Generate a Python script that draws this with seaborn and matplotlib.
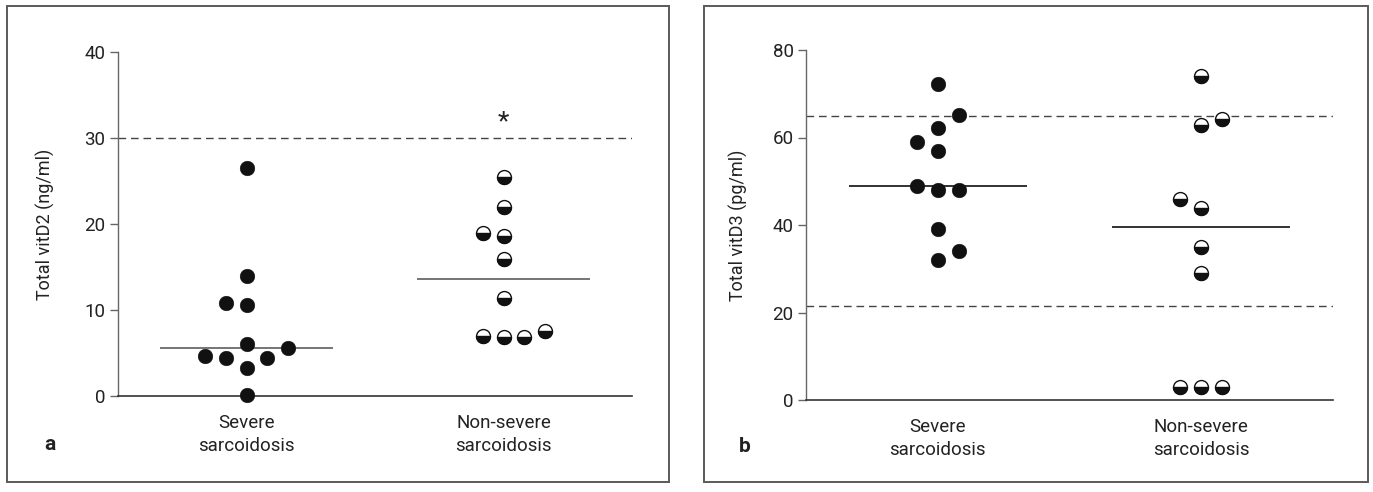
import numpy as np
import pandas as pd
import matplotlib
matplotlib.use("Agg")
import matplotlib.pyplot as plt
from matplotlib.markers import MarkerStyle
from matplotlib.patches import Rectangle
import seaborn as sns

# ---------------- data ----------------
categories = ["Severe\nsarcoidosis", "Non-severe\nsarcoidosis"]

# Panel a: total vitD2 (ng/ml)
vitd2_severe = [26.5, 14.0, 10.8, 10.6, 6.05, 5.6, 4.7, 4.45, 4.45, 3.3, 0.1]
vitd2_severe_slot = [0, 0, -1, 0, 0, 2, -2, -1, 1, 0, 0]
vitd2_nonsevere = [25.5, 22.0, 18.9, 18.6, 15.9, 11.4, 6.98, 6.86, 6.86, 7.56]
vitd2_nonsevere_slot = [0, 0, -1, 0, 0, 0, -1, 0, 1, 2]
vitd2_reference = [30]

# Panel b: total vitD3 (pg/ml)
vitd3_severe = [72.2, 65.1, 62.1, 59.0, 57.0, 49.0, 48.0, 48.0, 39.0, 34.1, 31.9]
vitd3_severe_slot = [0, 1, 0, -1, 0, -1, 0, 1, 0, 1, 0]
vitd3_nonsevere = [74.1, 62.9, 64.2, 45.9, 44.0, 35.0, 29.0, 2.9, 2.9, 2.9]
vitd3_nonsevere_slot = [0, 0, 1, -1, 0, 0, 0, -1, 0, 1]
vitd3_reference = [64.9, 21.6]

panel_a_ticks = [0, 10, 20, 30, 40]
panel_b_ticks = [0, 20, 40, 60, 80]

# ---------------- style ----------------
sns.set_theme(style="white")
plt.rcParams["font.family"] = ["Roboto", "DejaVu Sans"]
plt.rcParams["text.color"] = "#222222"
plt.rcParams["axes.labelcolor"] = "#222222"
plt.rcParams["xtick.color"] = "#222222"
plt.rcParams["ytick.color"] = "#222222"

W, H = 1373, 492
fig = plt.figure(figsize=(W / 100, H / 100), dpi=100)

SLOT = 0.08


def frame(x0, x1, y0, y1):
    fig.patches.append(Rectangle((x0 / W, 1 - y1 / H), (x1 - x0) / W, (y1 - y0) / H,
                                 transform=fig.transFigure, fill=False,
                                 edgecolor="#5a5a5a", linewidth=1.4))


def make_df(sev, sev_slot, non, non_slot):
    df = pd.DataFrame({
        "group": [0] * len(sev) + [1] * len(non),
        "value": list(sev) + list(non),
        "slot": list(sev_slot) + list(non_slot),
    })
    df["xpos"] = df["group"] + df["slot"] * SLOT
    return df


def draw_panel(ax, df, ylim, ticks, refs, ylabel, median_color, label_x):
    sev = df[df.group == 0]
    non = df[df.group == 1]
    # reference (dashed) lines
    for r in refs:
        ax.axhline(r, color="#444444", lw=1.0, ls=(0, (5.5, 3.5)), zorder=1)
    # medians
    for g, sub in [(0, sev), (1, non)]:
        m = np.median(sub["value"])
        ax.hlines(m, g - 0.337, g + 0.337, color=median_color, lw=1.3, zorder=2)
    # severe: filled black circles
    sns.scatterplot(data=sev, x="xpos", y="value", ax=ax, color="#111111",
                    edgecolor="#111111", linewidth=0.3, s=112, marker="o",
                    zorder=3, clip_on=False, legend=False)
    # non-severe: half-filled circles (white top, black bottom)
    sns.scatterplot(data=non, x="xpos", y="value", ax=ax, color="white",
                    edgecolor="#111111", linewidth=1.0, s=100, marker="o",
                    zorder=3, clip_on=False, legend=False)
    sns.scatterplot(data=non, x="xpos", y="value", ax=ax, color="#111111",
                    edgecolor="#111111", linewidth=1.0, s=100,
                    marker=MarkerStyle("o", fillstyle="bottom"),
                    zorder=4, clip_on=False, legend=False)

    ax.set_xlim(-0.5, 1.5)
    ax.set_ylim(*ylim)
    ax.set_yticks(ticks)
    ax.set_xticks([0, 1])
    ax.set_xticklabels(categories, fontsize=13.5, linespacing=1.35)
    ax.tick_params(axis="x", length=0, pad=13)
    ax.tick_params(axis="y", length=6, width=1.0, color="#666666",
                   labelsize=13.5, pad=3, left=True, direction="out")
    ax.set_xlabel("")
    ax.set_ylabel(ylabel, fontsize=13)
    ax.yaxis.set_label_coords(label_x, 0.5)
    for s in ["top", "right"]:
        ax.spines[s].set_visible(False)
    ax.spines["left"].set_color("#666666")
    ax.spines["left"].set_linewidth(1.0)
    ax.spines["bottom"].set_color("#333333")
    ax.spines["bottom"].set_linewidth(1.2)
    ax.grid(False)
    ax.set_facecolor("none")


# Panel a
frame(7, 669, 6, 482)
ax1 = fig.add_axes([118 / W, 1 - 396 / H, (632 - 118) / W, (396 - 52) / H])
df_a = make_df(vitd2_severe, vitd2_severe_slot, vitd2_nonsevere, vitd2_nonsevere_slot)
draw_panel(ax1, df_a, (0, 40), panel_a_ticks, vitd2_reference,
           "Total vitD2 (ng/ml)", "#6a6a6a", -0.123)
ax1.text(1, 31.8, "*", ha="center", va="center", fontsize=19)
fig.text(50 / W, 1 - 445 / H, "a", fontsize=15, fontweight="bold",
         ha="center", va="center")

# Panel b
frame(704, 1368, 6, 482)
ax2 = fig.add_axes([806 / W, 1 - 400 / H, (1333 - 806) / W, (400 - 50) / H])
df_b = make_df(vitd3_severe, vitd3_severe_slot, vitd3_nonsevere, vitd3_nonsevere_slot)
draw_panel(ax2, df_b, (0, 80), panel_b_ticks, vitd3_reference,
           "Total vitD3 (pg/ml)", "#222222", -0.111)
fig.text(745 / W, 1 - 447 / H, "b", fontsize=15, fontweight="bold",
         ha="center", va="center")

fig.savefig("out.png", dpi=100)
